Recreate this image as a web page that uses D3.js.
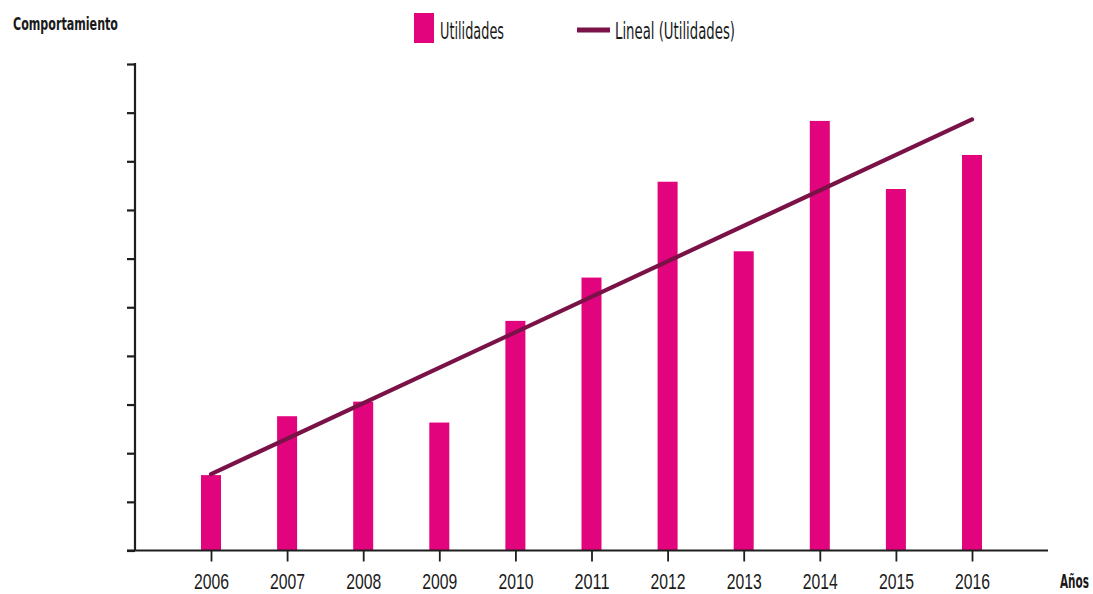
<!DOCTYPE html>
<html>
<head>
<meta charset="utf-8">
<script src="https://cdn.jsdelivr.net/npm/d3@7/dist/d3.min.js"></script>
<style>
  html, body { margin: 0; padding: 0; background: #ffffff; }
  svg { display: block; }
  text { font-family: "Liberation Sans Narrow", "Arial Narrow", "DejaVu Sans Condensed", sans-serif; fill: #1a1a1a; }
</style>
</head>
<body>
<svg id="chart" width="1093" height="594"></svg>
<script>
// Years on the horizontal axis
const years = ["2006", "2007", "2008", "2009", "2010", "2011", "2012", "2013", "2014", "2015", "2016"];
// Utilidades per year (axis units, unlabelled scale 0–10)
const utilidades = [1.55, 2.76, 3.06, 2.63, 4.72, 5.61, 7.58, 6.15, 8.83, 7.43, 8.13];
// Linear trend, value at the first and at the last year
const trendYears = ["2006", "2016"];
const trendValues = [1.57, 8.86];
// Legend entries
const legendLabels = ["Utilidades", "Lineal (Utilidades)"];
const yTicks = [0, 1, 2, 3, 4, 5, 6, 7, 8, 9, 10];

const barColor = "#e2047c";
const lineColor = "#7a1247";
const axisColor = "#1e1e1e";

const svg = d3.select("#chart");

const x = d3.scalePoint().domain(years).range([211, 972]);
const y = d3.scaleLinear().domain([0, 10]).range([550.5, 64]);
const barWidth = 20;

// Bars
svg.append("g")
  .selectAll("rect")
  .data(utilidades)
  .join("rect")
  .attr("x", (d, i) => x(years[i]) - barWidth / 2)
  .attr("y", d => y(d))
  .attr("width", barWidth)
  .attr("height", d => y(0) - y(d))
  .attr("fill", barColor);

// Y axis: ticks only, no labels
const yAxis = svg.append("g")
  .attr("transform", "translate(135,0)")
  .call(d3.axisLeft(y).tickValues(yTicks).tickSize(8).tickFormat(""));
yAxis.select(".domain").remove();
yAxis.selectAll(".tick line").attr("stroke", axisColor).attr("stroke-width", 2.2);
svg.append("line")
  .attr("x1", 135).attr("x2", 135)
  .attr("y1", y(10) - 1).attr("y2", y(0))
  .attr("stroke", axisColor).attr("stroke-width", 2.2);

// X axis
const xAxis = svg.append("g")
  .attr("transform", `translate(0,${y(0)})`)
  .call(d3.axisBottom(x).tickSize(11));
xAxis.select(".domain").remove();
xAxis.selectAll(".tick line").attr("stroke", axisColor).attr("stroke-width", 1.8);
xAxis.selectAll(".tick text")
  .attr("y", 38.5).attr("dy", 0)
  .attr("font-size", 21.5)
  .attr("textLength", 35)
  .attr("lengthAdjust", "spacingAndGlyphs")
  .style("font-family", "'Liberation Sans Narrow', 'Arial Narrow', sans-serif")
  .attr("fill", "#1a1a1a");
svg.append("line")
  .attr("x1", 127).attr("x2", 1048)
  .attr("y1", y(0)).attr("y2", y(0))
  .attr("stroke", axisColor).attr("stroke-width", 2.2);

// Trend line
svg.append("path")
  .datum(trendValues)
  .attr("d", d3.line().x((d, i) => x(trendYears[i])).y(d => y(d)))
  .attr("fill", "none")
  .attr("stroke", lineColor)
  .attr("stroke-width", 4.2)
  .attr("stroke-linecap", "round");

// Axis titles
svg.append("text")
  .attr("x", 13).attr("y", 30)
  .attr("font-size", 17.5).attr("font-weight", "bold")
  .attr("textLength", 105).attr("lengthAdjust", "spacingAndGlyphs")
  .text("Comportamiento");
// Horizontal axis title, squeezed horizontally to a fixed width
const xTitle = svg.append("text")
  .attr("font-size", 19).attr("font-weight", "bold")
  .text("Años");
const xTitleWidth = xTitle.node().getComputedTextLength() || 29;
xTitle.attr("transform", `translate(1060,588) scale(${29 / xTitleWidth},1)`);

// Legend
const legend = svg.append("g");
legend.append("rect")
  .attr("x", 414).attr("y", 13).attr("width", 20).attr("height", 30)
  .attr("fill", barColor);
legend.append("text")
  .attr("x", 440).attr("y", 39)
  .attr("font-size", 23)
  .attr("textLength", 64).attr("lengthAdjust", "spacingAndGlyphs")
  .text(legendLabels[0]);
legend.append("line")
  .attr("x1", 577).attr("x2", 610).attr("y1", 30).attr("y2", 30)
  .attr("stroke", lineColor).attr("stroke-width", 5);
legend.append("text")
  .attr("x", 615).attr("y", 39)
  .attr("font-size", 23)
  .attr("textLength", 120).attr("lengthAdjust", "spacingAndGlyphs")
  .text(legendLabels[1]);
</script>
</body>
</html>
